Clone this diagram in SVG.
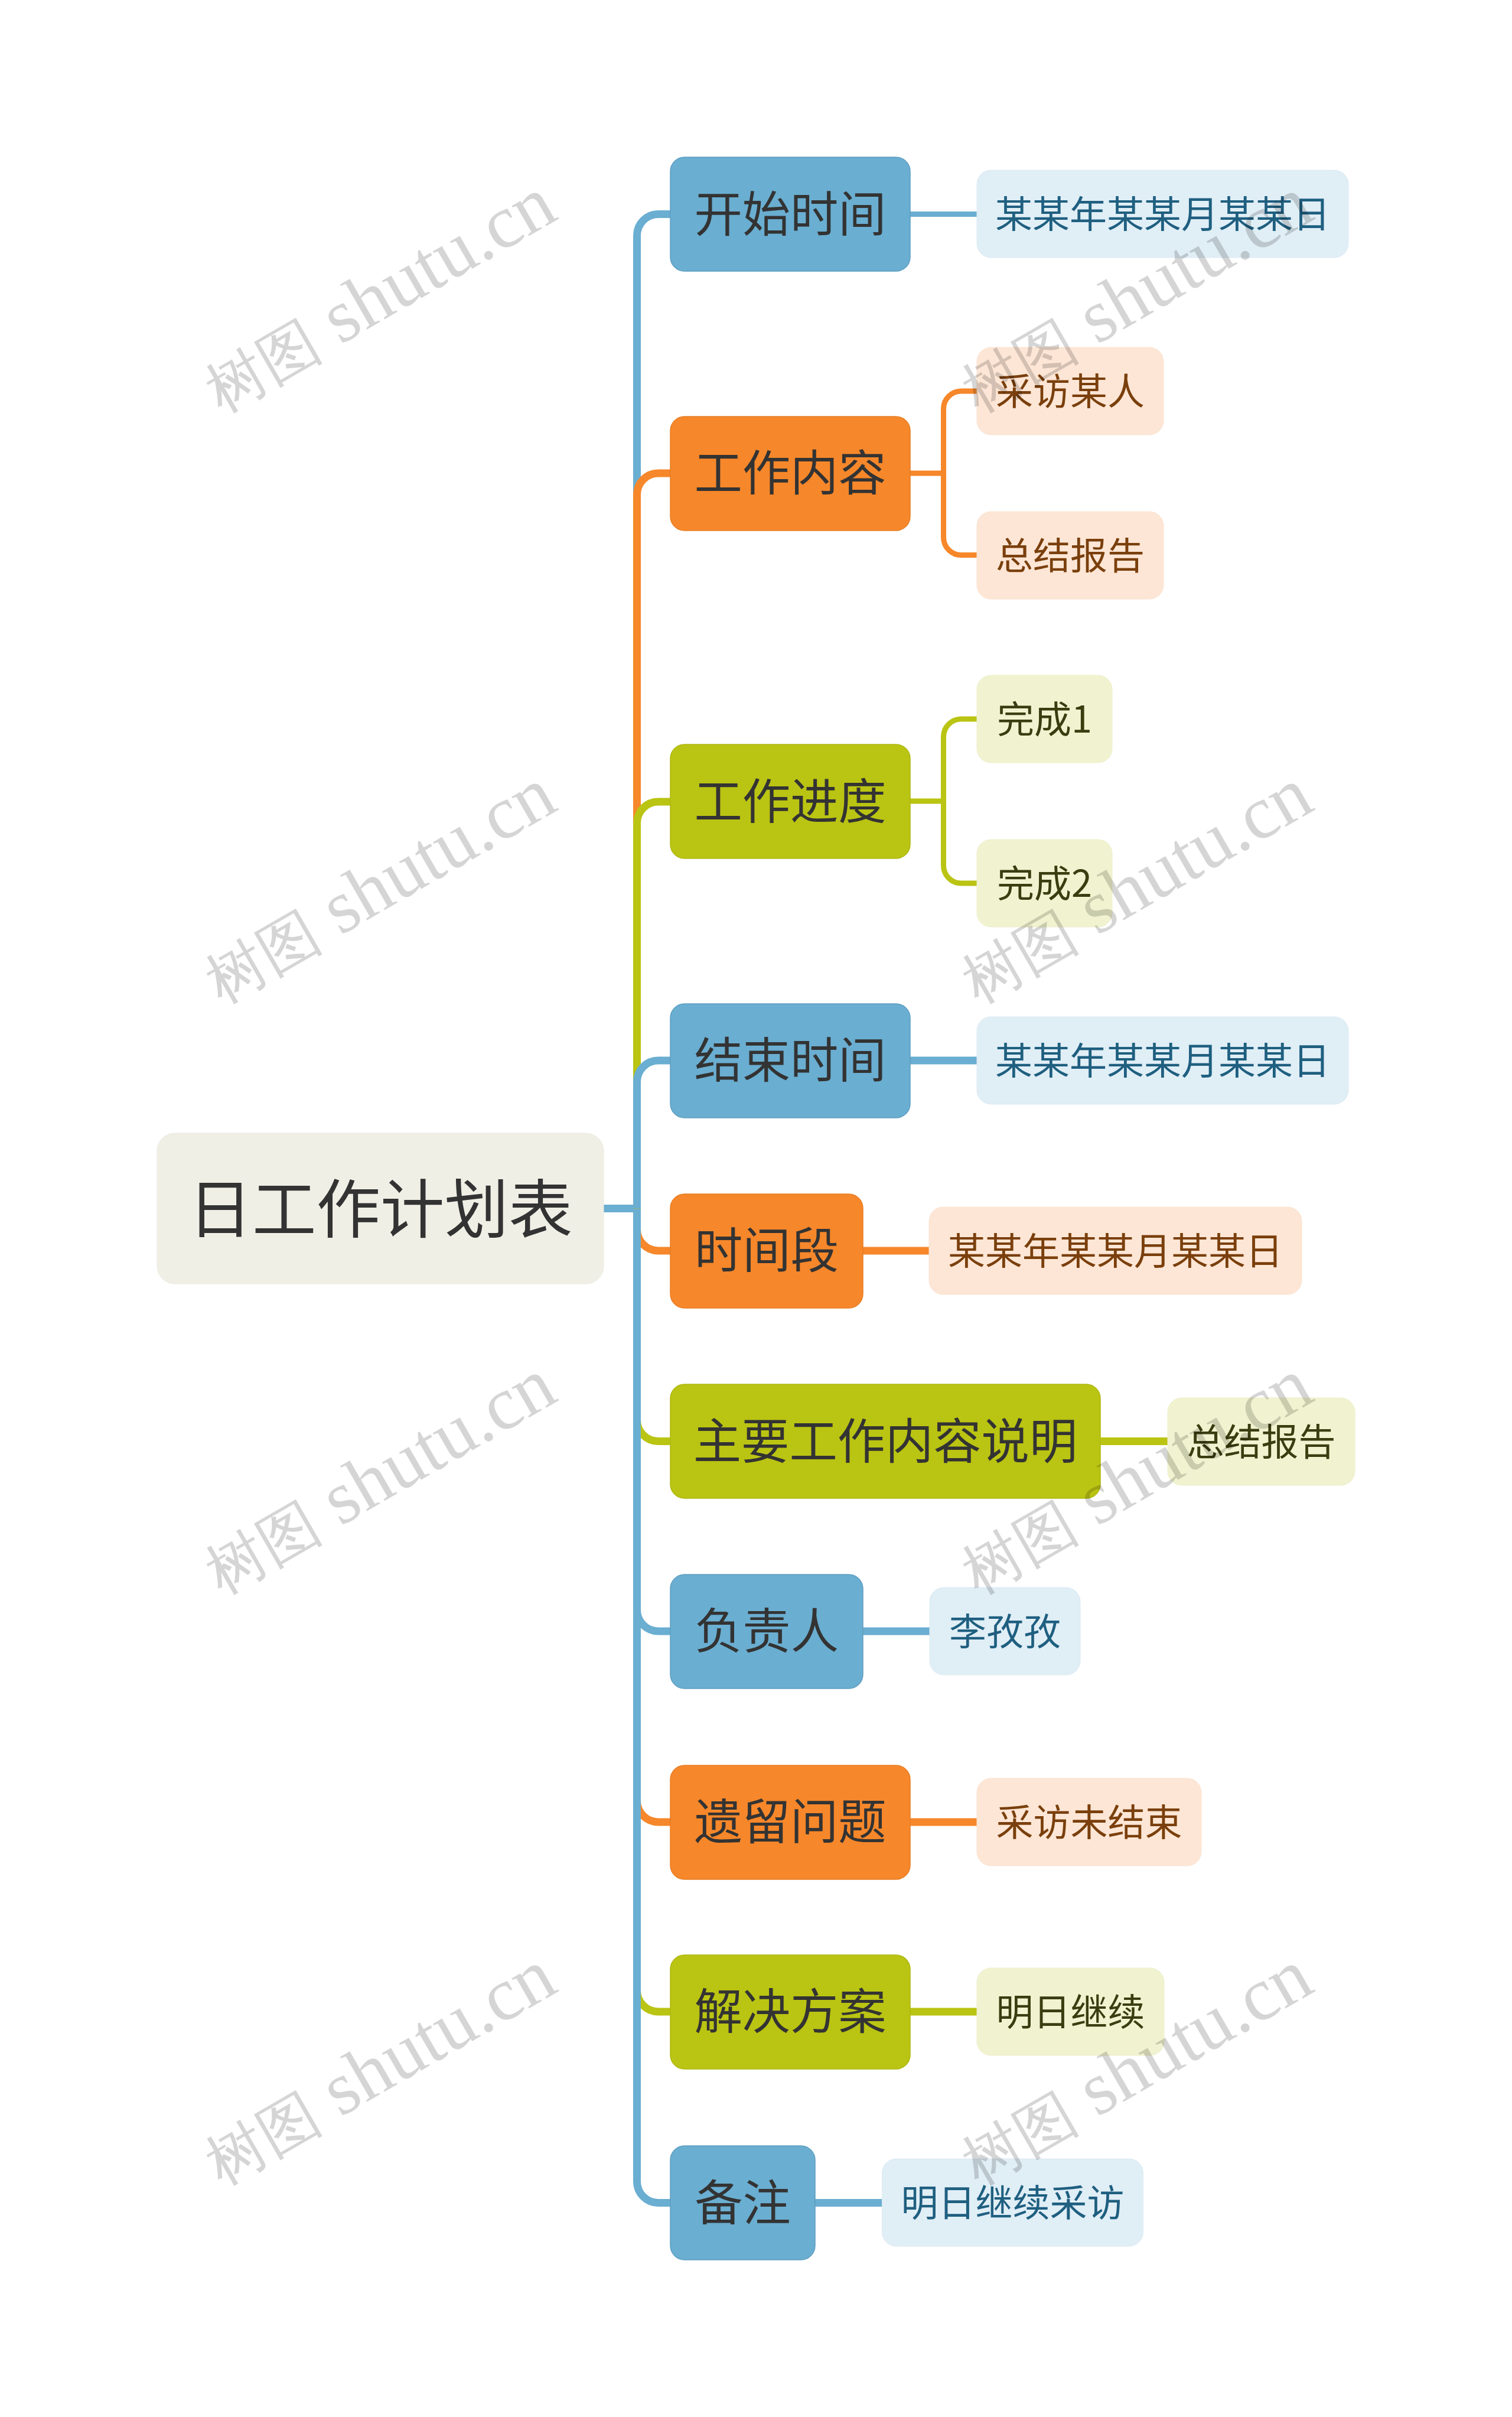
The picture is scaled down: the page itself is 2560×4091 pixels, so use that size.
<svg xmlns="http://www.w3.org/2000/svg" width="2560" height="4091" viewBox="0 0 2560 4091">
<style>
text{font-family:"Noto Sans CJK SC","Microsoft YaHei",sans-serif;text-anchor:middle;font-weight:400}
.root{fill:#EFEFE6;stroke:#EBEBE0;stroke-width:1}
.rt{font-size:108.5px;fill:#333}
.n1{stroke-width:1.5}
.t1{font-size:81.3px;fill:#333}
.t2{font-size:63px}
.b1{fill:#6AAED1;stroke:#5E9FC2}.o1{fill:#F6872A;stroke:#E87E25}.g1{fill:#BAC412;stroke:#AEB810}
.b2{fill:#E0EEF6;stroke:#DCEAF3}.o2{fill:#FDE6D5;stroke:#FBE2D0}.g2{fill:#F1F3D0;stroke:#EDEFCB}
.tb{fill:#1F5F80}.to{fill:#7A3F0C}.tg{fill:#3A3D10}
.c{fill:none;stroke-linecap:butt}
.cb{stroke:#6AAED1}.co{stroke:#F6872A}.cg{stroke:#BAC412}
.w13{stroke-width:13}.w9{stroke-width:9}
.wm{font-family:"Liberation Serif",serif;font-size:128px;font-weight:400;text-anchor:start;fill:#000;fill-opacity:.165}
.wc{font-size:100px}
</style>
<g id="connectors">
<path class="c cb w13" d="M1022 2045.5H1078.5"/>
<path class="c cb w13" d="M1078.5 2045.5V398.500A36 36 0 0 1 1114.500 362.500H1136"/>
<path class="c co w13" d="M1078.5 2045.5V837A36 36 0 0 1 1114.500 801H1136"/>
<path class="c cg w13" d="M1078.5 2045.5V1393A36 36 0 0 1 1114.500 1357H1136"/>
<path class="c cb w13" d="M1078.5 2045.5V1831A36 36 0 0 1 1114.500 1795H1136"/>
<path class="c co w13" d="M1078.5 2045.5V2081A36 36 0 0 0 1114.500 2117H1136"/>
<path class="c cg w13" d="M1078.5 2045.5V2403.500A36 36 0 0 0 1114.500 2439.500H1136"/>
<path class="c cb w13" d="M1078.5 2045.5V2725A36 36 0 0 0 1114.500 2761H1136"/>
<path class="c co w13" d="M1078.5 2045.5V3048A36 36 0 0 0 1114.500 3084H1136"/>
<path class="c cg w13" d="M1078.5 2045.5V3369A36 36 0 0 0 1114.500 3405H1136"/>
<path class="c cb w13" d="M1078.5 2045.5V3692.500A36 36 0 0 0 1114.500 3728.500H1136"/>
<path class="c cb w9" d="M1541 362.500H1655"/>
<path class="c co w9" d="M1541 801H1597.500"/>
<path class="c co w9" d="M1597.500 801V692A30 30 0 0 1 1627.500 662H1655"/>
<path class="c co w9" d="M1597.500 801V909.500A30 30 0 0 0 1627.500 939.500H1655"/>
<path class="c cg w9" d="M1541 1356H1597.500"/>
<path class="c cg w9" d="M1597.500 1356V1247A30 30 0 0 1 1627.500 1217H1655"/>
<path class="c cg w9" d="M1597.500 1356V1465A30 30 0 0 0 1627.500 1495H1655"/>
<path class="c cb w13" d="M1541 1795H1655"/>
<path class="c co w13" d="M1460 2117H1575"/>
<path class="c cg w13" d="M1862 2439.500H1978"/>
<path class="c cb w13" d="M1460 2761H1575"/>
<path class="c co w13" d="M1541 3084H1655"/>
<path class="c cg w13" d="M1541 3405H1655"/>
<path class="c cb w13" d="M1379 3728.500H1495"/>
</g>
<g id="root"><rect class="root" x="266" y="1918" width="756" height="255" rx="30"/><text class="rt" x="644" y="2086">日工作计划表</text></g>
<g id="n1"><rect class="n1 b1" x="1135" y="266" width="406" height="193" rx="24"/><text class="t1" x="1338" y="392">开始时间</text></g>
<g id="n1-1"><rect class="b2" x="1654" y="288" width="629" height="148" rx="24"/><text class="t2 tb" x="1968.500" y="385">某某年某某月某某日</text></g>
<g id="n2"><rect class="n1 o1" x="1135" y="705" width="406" height="193" rx="24"/><text class="t1 " x="1338" y="830">工作内容</text></g>
<g id="n2-1"><rect class="o2" x="1654" y="588" width="316" height="148" rx="24"/><text class="t2 to" x="1812" y="685">采访某人</text></g>
<g id="n2-2"><rect class="o2" x="1654" y="866" width="316" height="148" rx="24"/><text class="t2 to" x="1812" y="963">总结报告</text></g>
<g id="n3"><rect class="n1 g1" x="1135" y="1260" width="406" height="193" rx="24"/><text class="t1" x="1338" y="1386">工作进度</text></g>
<g id="n3-1"><rect class="g2" x="1654" y="1143" width="229" height="148" rx="24"/><text class="t2 tg" x="1768.500" y="1240">完成1</text></g>
<g id="n3-2"><rect class="g2" x="1654" y="1421" width="229" height="148" rx="24"/><text class="t2 tg" x="1768.500" y="1518">完成2</text></g>
<g id="n4"><rect class="n1 b1" x="1135" y="1699" width="406" height="193" rx="24"/><text class="t1" x="1338" y="1824">结束时间</text></g>
<g id="n4-1"><rect class="b2" x="1654" y="1721" width="629" height="148" rx="24"/><text class="t2 tb" x="1968.500" y="1818">某某年某某月某某日</text></g>
<g id="n5"><rect class="n1 o1" x="1135" y="2021" width="326" height="193" rx="24"/><text class="t1" x="1298" y="2146">时间段</text></g>
<g id="n5-1"><rect class="o2" x="1573" y="2043" width="631" height="148" rx="24"/><text class="t2 to" x="1888.500" y="2140">某某年某某月某某日</text></g>
<g id="n6"><rect class="n1 g1" x="1135" y="2343" width="728" height="193" rx="24"/><text class="t1" x="1499" y="2469">主要工作内容说明</text></g>
<g id="n6-1"><rect class="g2" x="1977" y="2366" width="317" height="148" rx="24"/><text class="t2 tg" x="2135.500" y="2463">总结报告</text></g>
<g id="n7"><rect class="n1 b1" x="1135" y="2665" width="326" height="193" rx="24"/><text class="t1" x="1298" y="2790">负责人</text></g>
<g id="n7-1"><rect class="b2" x="1574" y="2687" width="255" height="148" rx="24"/><text class="t2 tb" x="1701.500" y="2784">李孜孜</text></g>
<g id="n8"><rect class="n1 o1" x="1135" y="2988" width="406" height="193" rx="24"/><text class="t1" x="1338" y="3113">遗留问题</text></g>
<g id="n8-1"><rect class="o2" x="1654" y="3010" width="380" height="148" rx="24"/><text class="t2 to" x="1844" y="3107">采访未结束</text></g>
<g id="n9"><rect class="n1 g1" x="1135" y="3309" width="406" height="193" rx="24"/><text class="t1" x="1338" y="3434">解决方案</text></g>
<g id="n9-1"><rect class="g2" x="1654" y="3331" width="317" height="148" rx="24"/><text class="t2 tg" x="1812.500" y="3428">明日继续</text></g>
<g id="n10"><rect class="n1 b1" x="1135" y="3632" width="245" height="193" rx="24"/><text class="t1" x="1257.500" y="3758">备注</text></g>
<g id="n10-1"><rect class="b2" x="1493.500" y="3654" width="442" height="148" rx="24"/><text class="t2 tb" x="1714.500" y="3751">明日继续采访</text></g>
<g id="watermarks">
<text class="wm" transform="translate(375 700) rotate(-30)"><tspan class="wc">树图</tspan> shutu.cn</text>
<text class="wm" transform="translate(1656 700) rotate(-30)"><tspan class="wc">树图</tspan> shutu.cn</text>
<text class="wm" transform="translate(375 1700) rotate(-30)"><tspan class="wc">树图</tspan> shutu.cn</text>
<text class="wm" transform="translate(1656 1700) rotate(-30)"><tspan class="wc">树图</tspan> shutu.cn</text>
<text class="wm" transform="translate(375 2700) rotate(-30)"><tspan class="wc">树图</tspan> shutu.cn</text>
<text class="wm" transform="translate(1656 2700) rotate(-30)"><tspan class="wc">树图</tspan> shutu.cn</text>
<text class="wm" transform="translate(375 3700) rotate(-30)"><tspan class="wc">树图</tspan> shutu.cn</text>
<text class="wm" transform="translate(1656 3700) rotate(-30)"><tspan class="wc">树图</tspan> shutu.cn</text>
</g>
</svg>
